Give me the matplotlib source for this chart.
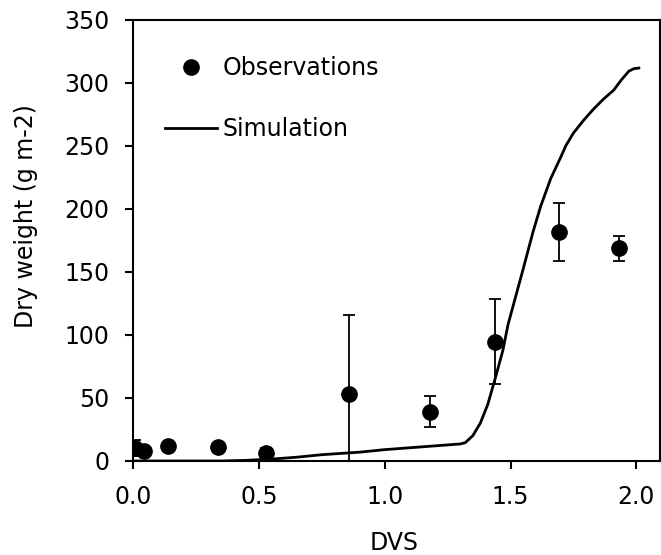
import matplotlib
matplotlib.use("Agg")
import matplotlib.pyplot as plt

# observations (DVS, dry weight, std)
obs_dvs = [0.008, 0.043, 0.138, 0.336, 0.528, 0.858, 1.18, 1.438, 1.693, 1.932]
obs_wt = [10.1, 8.2, 12.0, 11.4, 6.6, 53.1, 39.1, 94.6, 181.4, 168.7]
obs_sd = [6.5, 2.0, 2.0, 2.0, 4.0, 62.7, 12.3, 33.5, 23.0, 10.0]

# simulated dry weight
sim_dvs = [0.0, 0.35, 0.45, 0.55, 0.65, 0.75, 0.9, 1.0, 1.1, 1.2, 1.3, 1.32,
           1.35, 1.38, 1.41, 1.44, 1.47, 1.49, 1.52, 1.55, 1.59, 1.62, 1.66,
           1.70, 1.72, 1.75, 1.79, 1.83, 1.87, 1.91, 1.94, 1.97, 1.99, 2.01]
sim_wt = [0.0, 0.0, 0.5, 1.5, 3.0, 5.0, 7.0, 9.0, 10.5, 12.0, 13.5, 14.5,
          20, 30, 45, 66, 88, 108, 130, 152, 182, 202, 224,
          241, 250, 260, 270, 279, 287, 294, 302, 309, 311, 311.5]

plt.rcParams["font.family"] = ["DejaVu Sans"]
plt.rcParams["font.size"] = 17

fig = plt.figure(figsize=(6.61, 5.55), dpi=100)
ax = fig.add_axes([133 / 661, 1 - 461 / 555, 527 / 661, 441.5 / 555])

ax.errorbar(obs_dvs, obs_wt, yerr=obs_sd, fmt="none", ecolor="black",
            elinewidth=1.3, capsize=4.5, capthick=1.3)
ax.plot(obs_dvs, obs_wt, "o", color="black", markersize=11, label="Observations")
ax.plot(sim_dvs, sim_wt, "-", color="black", lw=2, label="Simulation")

ax.set_xlim(0, 2.094)
ax.set_ylim(0, 350)
ax.set_xticks([0.0, 0.5, 1.0, 1.5, 2.0])
ax.set_xticklabels(["0.0", "0.5", "1.0", "1.5", "2.0"])
ax.set_yticks(range(0, 351, 50))
ax.tick_params(direction="out", length=6, width=1.5, pad=11)
for s in ax.spines.values():
    s.set_linewidth(1.5)
ax.tick_params(right=False, top=False)

ax.set_xlabel("DVS")
ax.set_ylabel("Dry weight (g m-2)")
ax.xaxis.set_label_coords(0.495, -0.158)
ax.yaxis.set_label_coords(-0.18, 0.554)

ax.legend(loc="upper left", bbox_to_anchor=(0.0607, 0.9165), frameon=False,
          borderaxespad=0, borderpad=0, numpoints=1, handlelength=2.19,
          handletextpad=0.26, labelspacing=1.57)

fig.savefig("out.png", dpi=100)
